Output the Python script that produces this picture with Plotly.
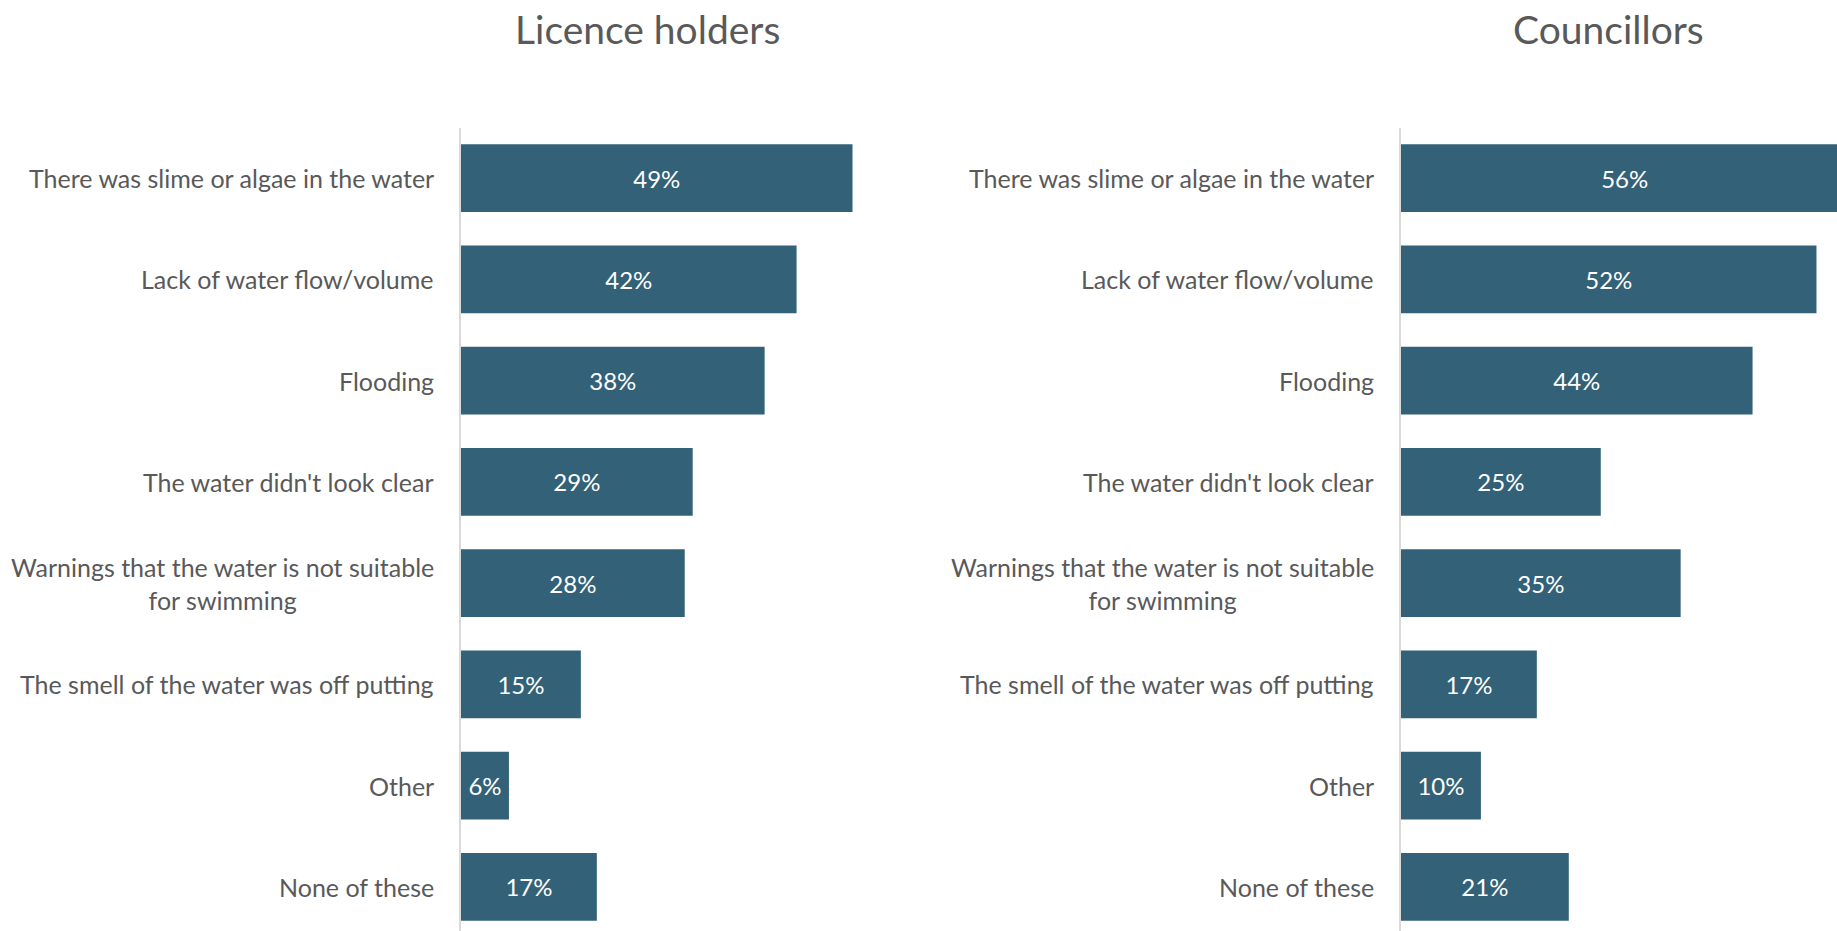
import plotly.graph_objects as go

# Reasons given, in display order (top to bottom)
categories = [
    "There was slime or algae in the water",
    "Lack of water flow/volume",
    "Flooding",
    "The water didn't look clear",
    "Warnings that the water is not suitable<br>for swimming",
    "The smell of the water was off putting",
    "Other",
    "None of these",
]
licence_holders = [49, 42, 38, 29, 28, 15, 6, 17]
councillors = [56, 52, 44, 25, 35, 17, 10, 21]
panel_titles = ["Licence holders", "Councillors"]

BAR = "#326178"
TEXT = "#595959"
AXIS = "#d9d9d9"
FONT = "Lato"

W, H = 1837, 931
left_x0, right_x0 = 461, 1401          # pixel position of each value axis
px_per_pct = 7.99
plot_top = 128
band_px = 101.26
first_center = 178.1

fig = go.Figure()

for vals, xa, ya in [(licence_holders, "x", "y"), (councillors, "x2", "y2")]:
    fig.add_trace(go.Bar(
        x=vals, y=categories, orientation="h",
        xaxis=xa, yaxis=ya,
        marker=dict(color=BAR, line=dict(width=0)),
        width=0.67,
        text=[f"{v}%" for v in vals],
        textposition="inside", insidetextanchor="middle",
        textfont=dict(family=FONT, size=24, color="white"),
        constraintext="none",
        cliponaxis=True,
        hoverinfo="skip",
    ))

# y range so each category band is band_px tall and the first centre sits at first_center
top_off = (first_center - plot_top) / band_px
span = (H - plot_top) / band_px
y_range = [span - top_off, -top_off]
y_dom = [0, (H - plot_top) / H]

left_rng = (right_x0 - 20 - left_x0) / px_per_pct
right_rng = (W - right_x0) / px_per_pct

common_x = dict(showgrid=False, zeroline=False, showticklabels=False, showline=False, fixedrange=True)
common_y = dict(showgrid=False, zeroline=False, showticklabels=False, showline=True,
                linecolor=AXIS, linewidth=1.5, range=y_range, domain=y_dom, type="category")

fig.update_layout(
    width=W, height=H,
    margin=dict(l=0, r=0, t=0, b=0),
    paper_bgcolor="white", plot_bgcolor="white",
    showlegend=False,
    xaxis=dict(domain=[left_x0 / W, (right_x0 - 20) / W], range=[0, left_rng], **common_x),
    yaxis=dict(anchor="x", categoryorder="array", categoryarray=categories, **common_y),
    xaxis2=dict(domain=[right_x0 / W, 1], range=[0, right_rng], anchor="y2", **common_x),
    yaxis2=dict(anchor="x2", categoryorder="array", categoryarray=categories, **common_y),
)

annotations = []
for xref, yref in [("x domain", "y"), ("x2 domain", "y2")]:
    for c in categories:
        annotations.append(dict(
            x=0, xref=xref, y=c, yref=yref,
            text=c, showarrow=False, xanchor="right", yanchor="middle",
            align="center", xshift=-25,
            font=dict(family=FONT, size=25, color=TEXT),
        ))

title_x = [647, 1608]
for t, tx in zip(panel_titles, title_x):
    annotations.append(dict(
        x=tx / W, xref="paper", y=1 - 29 / H, yref="paper",
        text=t, showarrow=False, xanchor="center", yanchor="middle",
        font=dict(family=FONT, size=39, color=TEXT),
    ))
fig.update_layout(annotations=annotations)

fig.write_html("out.html")
